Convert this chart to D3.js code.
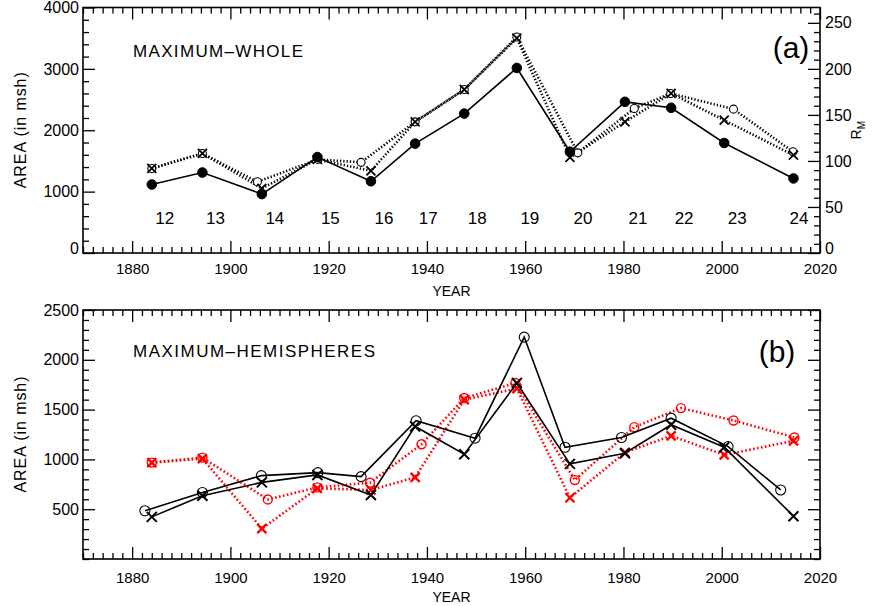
<!DOCTYPE html>
<html><head><meta charset="utf-8">
<script src="https://cdn.jsdelivr.net/npm/d3@7"></script>
<style>
body{margin:0;background:#fff;}
svg text{font-family:"Liberation Sans",Arial,sans-serif;fill:#000;}
</style></head>
<body><svg id="c" width="872" height="606"></svg>
<script>
// ---------- data ----------
const cycles = [12,13,14,15,16,17,18,19,20,21,22,23,24];
// dates of R_M maxima and R_M (right axis)
const rmYear  = [1884.0,1894.3,1906.4,1917.7,1928.6,1937.6,1947.6,1958.3,1969.1,1980.3,1989.7,2000.5,2014.6];
const rmValue = [74.4,87.4,64.0,104.2,77.9,118.8,151.4,201.0,110.0,164.2,157.7,119.5,81.0];
// (a) whole-disk area: maximum (circles) at its own date, and at R_M date (crosses)
const wholeMaxYear = [1884.0,1894.3,1905.5,1917.8,1926.6,1937.6,1947.6,1958.3,1970.7,1982.2,1989.6,2002.4,2014.5];
const wholeMax     = [1378,1622,1160,1525,1477,2137,2664,3520,1632,2355,2600,2344,1650];
const wholeAtRm    = [1378,1622,1053,1525,1339,2137,2664,3500,1557,2137,2600,2164,1595];
// (b) hemispheres: black = north, red = south
const northMaxYear = [1882.6,1894.3,1906.3,1917.8,1926.6,1937.8,1949.8,1959.8,1968.1,1979.6,1989.7,2001.3,2012.0];
const northMax     = [484,668,837,867,827,1388,1213,2228,1122,1220,1414,1129,693];
const northAtRm    = [423,635,769,844,642,1331,1051,1767,955,1062,1348,1122,430];
const southMaxYear = [1884.0,1894.3,1907.6,1917.7,1928.4,1938.9,1947.6,1958.0,1970.1,1982.2,1991.7,2002.4,2014.8];
const southMax     = [968,1018,598,719,766,1152,1616,1767,793,1324,1515,1391,1220];
const southAtRm    = [968,1008,305,709,693,820,1600,1711,615,1069,1237,1045,1186];
// ticks
const xMajor = [1880,1900,1920,1940,1960,1980,2000,2020];
const yMajorA = [0,1000,2000,3000,4000];
const yMajorR = [0,50,100,150,200,250];
const yMajorB = [500,1000,1500,2000,2500];

// ---------- layout ----------
const L=83, R=820;
const svg = d3.select("#c");
const x = d3.scaleLinear().domain([1870,2020]).range([L,R]);
const xMinor = d3.range(1870,2021,2).filter(v=>v%20!==0);

function frame(g, top, bot, y, yMaj, yMinStep, yDom, xPad, rightScale, rMaj, rMinStep){
  const BIG=12, SMALL=6;
  g.append("g").attr("transform",`translate(0,${bot})`)
    .call(d3.axisBottom(x).tickValues(xMinor).tickSize(-SMALL).tickFormat(""));
  g.append("g").attr("class","xb").attr("transform",`translate(0,${bot})`)
    .call(d3.axisBottom(x).tickValues(xMajor).tickSize(-BIG).tickPadding(xPad).tickFormat(d3.format("d")));
  g.append("g").attr("transform",`translate(0,${top})`)
    .call(d3.axisTop(x).tickValues(xMinor).tickSize(-SMALL).tickFormat(""));
  g.append("g").attr("transform",`translate(0,${top})`)
    .call(d3.axisTop(x).tickValues(xMajor).tickSize(-BIG).tickFormat(""));
  const yMin = d3.range(yDom[0],yDom[1]+1e-6,yMinStep).filter(v=>!yMaj.includes(v));
  g.append("g").attr("transform",`translate(${L},0)`)
    .call(d3.axisLeft(y).tickValues(yMin).tickSize(-SMALL).tickFormat(""));
  g.append("g").attr("class","yl").attr("transform",`translate(${L},0)`)
    .call(d3.axisLeft(y).tickValues(yMaj).tickSize(-BIG).tickPadding(4).tickFormat(d3.format("d")));
  const rs = rightScale || y, rm = rMaj || yMaj, rstep = rMinStep || yMinStep;
  const rd = rs.domain();
  const rMin = d3.range(0,rd[1]+1e-6,rstep).filter(v=>!rm.includes(v));
  g.append("g").attr("transform",`translate(${R},0)`)
    .call(d3.axisRight(rs).tickValues(rMin).tickSize(-SMALL).tickFormat(""));
  g.append("g").attr("class","yr").attr("transform",`translate(${R},0)`)
    .call(d3.axisRight(rs).tickValues(rm).tickSize(-BIG).tickPadding(5)
      .tickFormat(rightScale ? d3.format("d") : ""));
  g.selectAll(".domain").remove();
  g.selectAll(".tick line").attr("stroke","#000").attr("stroke-width",1.3);
  g.selectAll(".tick text").attr("font-size",16).attr("font-family","Liberation Sans, Arial, sans-serif");
  g.selectAll(".xb .tick text").attr("font-size",15);
  // the zero labels sit slightly above the bottom axis, as in the original
  g.selectAll(".yl .tick text, .yr .tick text").filter(d=>d===0).attr("dy","0.05em");
  g.append("rect").attr("x",L).attr("y",top).attr("width",R-L).attr("height",bot-top)
    .attr("fill","none").attr("stroke","#000").attr("stroke-width",1.6);
}

function cross(g, pts, s, color, w){
  g.selectAll(null).data(pts).join("path")
    .attr("d",d=>`M${d[0]-s},${d[1]-s}L${d[0]+s},${d[1]+s}M${d[0]-s},${d[1]+s}L${d[0]+s},${d[1]-s}`)
    .attr("stroke",color).attr("stroke-width",w).attr("fill","none");
}
function circ(g, pts, r, color, w, fill){
  g.selectAll(null).data(pts).join("circle")
    .attr("cx",d=>d[0]).attr("cy",d=>d[1]).attr("r",r)
    .attr("fill",fill||"none").attr("stroke",color).attr("stroke-width",w);
}
function line(g, pts, color, w, dash){
  g.append("path").attr("d",d3.line()(pts)).attr("fill","none")
    .attr("stroke",color).attr("stroke-width",w).attr("stroke-dasharray",dash||null);
}

// ---------- panel (a) ----------
const aTop=7.5, aBot=253;
const yA = d3.scaleLinear().domain([0,4000]).range([aBot,aTop]);
const yR = d3.scaleLinear().domain([0,4000/15]).range([aBot,aTop]);
const ga = svg.append("g");
frame(ga,aTop,aBot,yA,yMajorA,200,[0,4000],10,yR,yMajorR,10);

const pMax = wholeMaxYear.map((t,i)=>[x(t),yA(wholeMax[i])]);
const pAtR = rmYear.map((t,i)=>[x(t),yA(wholeAtRm[i])]);
const pRm  = rmYear.map((t,i)=>[x(t),yR(rmValue[i])]);
line(ga,pMax,"#000",2.6,"1.3,2");
line(ga,pAtR,"#000",2.6,"1.3,2");
circ(ga,pMax,4,"#000",1.1,"#fff");
cross(ga,pAtR,4.5,"#000",1.8);
line(ga,pRm,"#000",1.6);
circ(ga,pRm,4.8,"#000",1,"#000");

ga.selectAll(null).data(cycles).join("text")
  .attr("x",(c,i)=>Math.min(x(rmYear[i])+13, R-21))
  .attr("y",224).attr("text-anchor","middle").attr("font-size",17).text(c=>c);
ga.append("text").attr("x",133).attr("y",57).attr("font-size",17)
  .attr("textLength",170).attr("lengthAdjust","spacing").text("MAXIMUM\u2013WHOLE");
ga.append("text").attr("x",791).attr("y",58).attr("text-anchor","middle").attr("font-size",30).text("(a)");
ga.append("text").attr("transform",`translate(26,${(aTop+aBot)/2}) rotate(-90)`)
  .attr("text-anchor","middle").attr("font-size",16).attr("textLength",116).attr("lengthAdjust","spacing")
  .text("AREA (in msh)");
ga.append("text").attr("x",(L+R)/2).attr("y",296).attr("text-anchor","middle").attr("font-size",14).text("YEAR");
const rl = ga.append("text").attr("transform",`translate(861,${(aTop+aBot)/2}) rotate(-90)`)
  .attr("text-anchor","middle").attr("font-size",14);
rl.append("tspan").text("R");
rl.append("tspan").attr("font-size",10).attr("dy",4).text("M");

// ---------- panel (b) ----------
const bTop=310, bBot=559;
const yB = d3.scaleLinear().domain([0,2500]).range([bBot,bTop]);
const gb = svg.append("g");
frame(gb,bTop,bBot,yB,yMajorB,100,[0,2500],13);

const sM = southMaxYear.map((t,i)=>[x(t),yB(southMax[i])]);
const sR = rmYear.map((t,i)=>[x(t),yB(southAtRm[i])]);
const nM = northMaxYear.map((t,i)=>[x(t),yB(northMax[i])]);
const nR = rmYear.map((t,i)=>[x(t),yB(northAtRm[i])]);
line(gb,sM,"#ff0000",2.6,"1.6,2.4");
line(gb,sR,"#ff0000",2.6,"1.6,2.4");
circ(gb,sM,4.5,"#ff0000",1.4);
cross(gb,sR,4.5,"#ff0000",2.4);
line(gb,nM,"#000",1.6);
line(gb,nR,"#000",1.6);
circ(gb,nM,5,"#000",1.1,"none");
cross(gb,nR,5,"#000",2);

gb.append("text").attr("x",133).attr("y",357).attr("font-size",17)
  .attr("textLength",242).attr("lengthAdjust","spacing").text("MAXIMUM\u2013HEMISPHERES");
gb.append("text").attr("x",777).attr("y",362).attr("text-anchor","middle").attr("font-size",30).text("(b)");
gb.append("text").attr("transform",`translate(26,${(bTop+bBot)/2}) rotate(-90)`)
  .attr("text-anchor","middle").attr("font-size",16).attr("textLength",116).attr("lengthAdjust","spacing")
  .text("AREA (in msh)");
gb.append("text").attr("x",(L+R)/2).attr("y",602).attr("text-anchor","middle").attr("font-size",14).text("YEAR");
</script></body></html>
